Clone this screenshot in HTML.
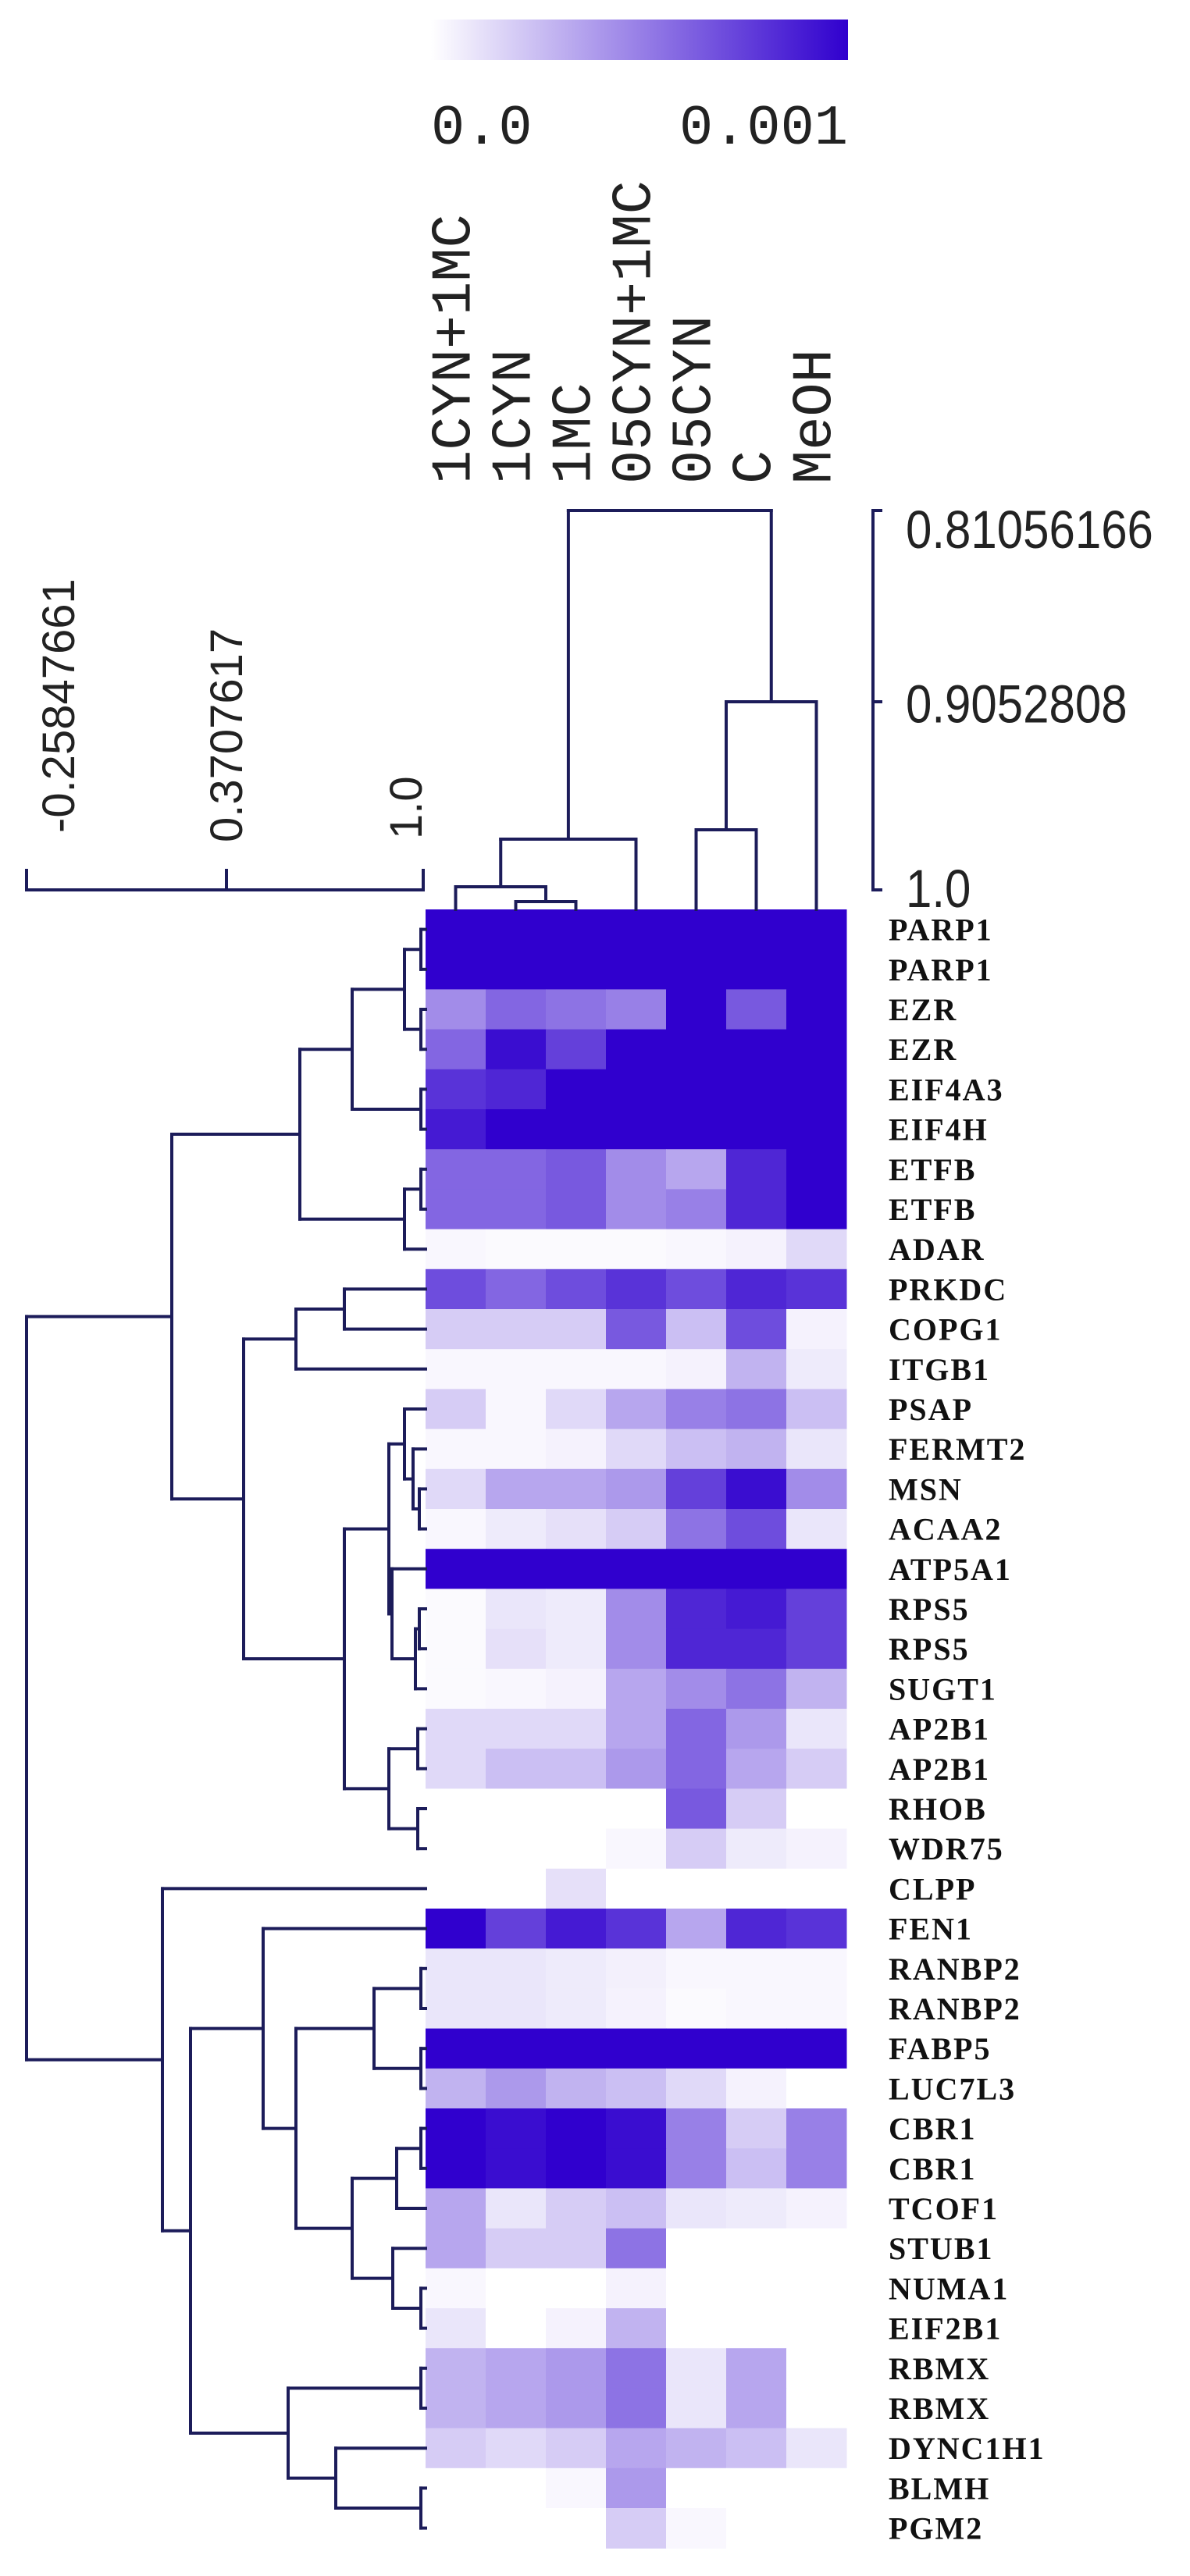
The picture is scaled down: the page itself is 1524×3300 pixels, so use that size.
<!DOCTYPE html>
<html><head><meta charset="utf-8">
<style>
html,body{margin:0;padding:0;background:#fff;}
svg{display:block;}
</style></head>
<body>
<svg id="s" xmlns="http://www.w3.org/2000/svg" width="1524" height="3300" viewBox="0 0 1524 3300">
<defs>
<linearGradient id="cb" x1="0" x2="1" y1="0" y2="0">
<stop offset="0" stop-color="#ffffff"/>
<stop offset="1" stop-color="rgb(48,0,206)"/>
</linearGradient>
</defs>
<rect x="552" y="25" width="534" height="52" fill="url(#cb)"/>
<text x="552" y="184" font-family="Liberation Mono, monospace" font-size="72" fill="#222">0.0</text>
<text x="1086" y="184" text-anchor="end" font-family="Liberation Mono, monospace" font-size="72" fill="#222">0.001</text>
<g id="g"></g>
</svg>
<script>
var NS="http://www.w3.org/2000/svg";
var g=document.getElementById("g");
function el(t,a,txt){var e=document.createElementNS(NS,t);for(var k in a)e.setAttribute(k,a[k]);if(txt!==undefined)e.textContent=txt;g.appendChild(e);return e;}
var X0=545,CW=77,Y0=1165,RH=51.2;
var cols=["1CYN+1MC","1CYN","1MC","05CYN+1MC","05CYN","C","MeOH"];
var rows=["PARP1","PARP1","EZR","EZR","EIF4A3","EIF4H","ETFB","ETFB","ADAR","PRKDC","COPG1","ITGB1","PSAP","FERMT2","MSN","ACAA2","ATP5A1","RPS5","RPS5","SUGT1","AP2B1","AP2B1","RHOB","WDR75","CLPP","FEN1","RANBP2","RANBP2","FABP5","LUC7L3","CBR1","CBR1","TCOF1","STUB1","NUMA1","EIF2B1","RBMX","RBMX","DYNC1H1","BLMH","PGM2"];
var V=[[1,1,1,1,1,1,1],[1,1,1,1,1,1,1],
[.45,.6,.55,.5,1,.65,1],[.6,.95,.75,1,1,1,1],[.8,.85,1,1,1,1,1],[.9,1,1,1,1,1,1],
[.6,.6,.65,.45,.35,.85,1],[.6,.6,.65,.45,.5,.85,1],[.03,.02,.02,.02,.03,.05,.15],
[.7,.6,.7,.8,.7,.85,.8],[.2,.2,.2,.65,.25,.7,.05],[.03,.03,.03,.03,.05,.3,.08],
[.2,.03,.15,.35,.5,.55,.25],[.03,.03,.05,.15,.25,.3,.1],[.15,.35,.35,.4,.75,.95,.45],
[.03,.08,.12,.2,.55,.7,.1],[1,1,1,1,1,1,1],[.02,.1,.08,.45,.85,.9,.75],[.02,.12,.08,.45,.85,.85,.75],
[.02,.03,.05,.35,.45,.55,.3],[.15,.15,.15,.35,.6,.4,.1],[.15,.25,.25,.4,.6,.35,.2],
[0,0,0,0,.65,.2,0],[0,0,0,.03,.2,.08,.05],[0,0,.12,0,0,0,0],[1,.75,.9,.8,.35,.85,.8],
[.1,.1,.08,.06,.03,.03,.03],[.1,.1,.08,.05,.02,.03,.03],[1,1,1,1,1,1,1],[.3,.4,.3,.25,.15,.05,0],
[1,.95,1,.95,.5,.2,.5],[1,.95,1,.95,.5,.25,.5],[.35,.1,.2,.25,.1,.08,.05],[.35,.2,.2,.55,0,0,0],
[.03,0,0,.05,0,0,0],[.1,0,.05,.3,0,0,0],[.3,.35,.4,.55,.1,.35,0],[.3,.35,.4,.55,.1,.35,0],
[.2,.15,.2,.35,.3,.25,.1],[0,0,.03,.4,0,0,0],[0,0,0,.2,.03,0,0]];
function col(v){var r=Math.round(255-(255-48)*v),gg=Math.round(255-255*v),b=Math.round(255-(255-206)*v);return "rgb("+r+","+gg+","+b+")";}
for(var i=0;i<rows.length;i++){
 for(var j=0;j<7;j++){el("rect",{x:X0+j*CW,y:(Y0+i*RH).toFixed(1),width:CW+0.5,height:RH+0.6,fill:col(V[i][j])});}
 el("text",{x:1138,y:(Y0+i*RH+RH/2+14).toFixed(1),"font-family":"Liberation Serif, serif","font-weight":"bold","font-size":"40","letter-spacing":"2",fill:"#111"},rows[i]);
}
for(var j=0;j<7;j++){var cx=X0+CW*(j+0.5)+18;
 el("text",{transform:"translate("+cx+",620) rotate(-90)","font-family":"Liberation Mono, monospace","font-size":"72",fill:"#222"},cols[j]);}
var LC="#1c1c5a",LW=4;
function line(x1,y1,x2,y2){el("line",{x1:x1,y1:y1,x2:x2,y2:y2,stroke:LC,"stroke-width":LW,"stroke-linecap":"square"});}
// row tree
function N(x,a,b){return {x:x,c:[a,b]};}
function ry(n){if(typeof n==="number")return Y0+RH*(n+0.5);if(n.y===undefined)n.y=(ry(n.c[0])+ry(n.c[1]))/2;return n.y;}
function rx(n){return typeof n==="number"?X0:n.x;}
function drawR(n){if(typeof n==="number")return;var a=n.c[0],b=n.c[1];
 line(n.x,ry(a),n.x,ry(b));line(n.x,ry(a),rx(a),ry(a));line(n.x,ry(b),rx(b),ry(b));drawR(a);drawR(b);}
var A1=N(539,0,1),A2=N(539,2,3),A3=N(539,4,5),A4=N(539,6,7);
var B1=N(518,A1,A2),B2=N(451,B1,A3),B3=N(518,A4,8),T1=N(384,B2,B3);
var C1=N(441,9,10),C2=N(379,C1,11);
var D1=N(537,14,15),D2=N(529,13,D1),D3=N(518,12,D2);
var E1=N(537,17,18),E2=N(532,E1,19),E3=N(502,16,E2);
var F1=N(498,D3,E3);
var G1=N(535,20,21),G2=N(535,22,23),G3=N(498,G1,G2);
var H1=N(441,F1,G3),C3=N(312,C2,H1),R1=N(220,T1,C3);
var I1=N(539,26,27),I2=N(539,28,29),I3=N(479,I1,I2);
var J1=N(539,30,31),J2=N(508,J1,32),J3=N(539,34,35),J4=N(503,33,J3),J5=N(451,J2,J4);
var K1=N(379,I3,J5),K2=N(337,25,K1);
var L1=N(539,36,37),L2=N(539,39,40),L3=N(430,38,L2),L4=N(369,L1,L3);
var M1=N(244,K2,L4),M2=N(208,24,M1),Root=N(34,R1,M2);
drawR(Root);
// column tree
function cx_(n){if(typeof n==="number")return X0+CW*(n+0.5);if(n.xx===undefined)n.xx=(cx_(n.c[0])+cx_(n.c[1]))/2;return n.xx;}
function cy_(n){return typeof n==="number"?Y0:n.x;}
function drawC(n){if(typeof n==="number")return;var a=n.c[0],b=n.c[1];
 line(cx_(a),n.x,cx_(b),n.x);line(cx_(a),n.x,cx_(a),cy_(a));line(cx_(b),n.x,cx_(b),cy_(b));drawC(a);drawC(b);}
var ca=N(1155,1,2),cb=N(1136,0,ca),cc=N(1075,cb,3),cd=N(1063,4,5),ce=N(899,cd,6),cr=N(654,cc,ce);
drawC(cr);
// column scale
line(1118,654,1118,1140);line(1118,654,1128,654);line(1118,899,1128,899);line(1118,1140,1128,1140);
var SF="Liberation Sans, sans-serif";
el("text",{x:1160,y:706,"font-family":SF,"font-size":"60",fill:"#222",transform:"translate(0,-110) scale(1,1.15)"},"0.81056166");
el("text",{x:1160,y:922,"font-family":SF,"font-size":"60",fill:"#222",transform:"translate(0,-135) scale(1,1.15)"},"0.9052808");
el("text",{x:1160,y:1140,"font-family":SF,"font-size":"60",fill:"#222",transform:"translate(0,-149) scale(1,1.15)"},"1.0");
// row scale
line(34,1140,542,1140);line(34,1140,34,1115);line(290,1140,290,1115);line(542,1140,542,1115);
el("text",{transform:"translate(95,1067) rotate(-90)","font-family":SF,"font-size":"58",fill:"#222"},"-0.25847661");
el("text",{transform:"translate(310,1079) rotate(-90)","font-family":SF,"font-size":"58",fill:"#222"},"0.3707617");
el("text",{transform:"translate(540,1075) rotate(-90)","font-family":SF,"font-size":"58",fill:"#222"},"1.0");
</script>
</body></html>
